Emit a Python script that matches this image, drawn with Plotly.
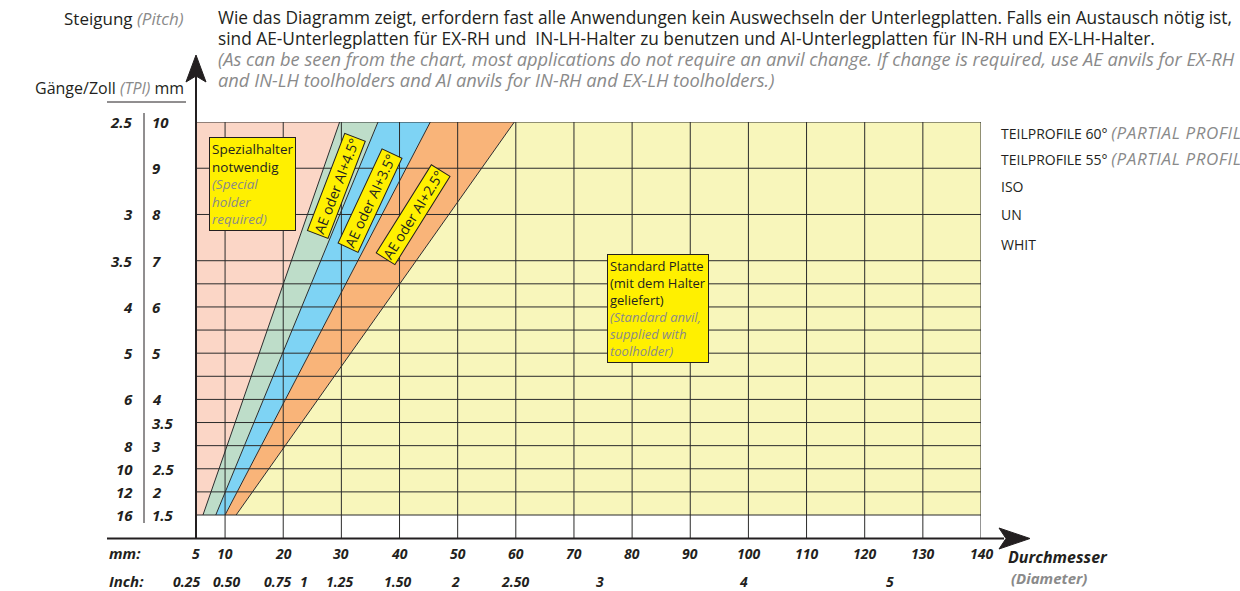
import math
import plotly.graph_objects as go

# ---------------- data ----------------
mm_ticks = [5, 10, 20, 30, 40, 50, 60, 70, 80, 90, 100, 110, 120, 130, 140]
inch_labels = ["0.25", "0.50", "0.75", "1", "1.25", "1.50", "2", "2.50", "3", "4", "5"]
inch_pos_mm = [3.3, 10.2, 19.1, 23.6, 29.6, 39.7, 49.7, 59.9, 74.5, 99.1, 124.3]

pitch_labels = [10, 9, 8, 7, 6, 5, 4, 3.5, 3, 2.5, 2, 1.5]
tpi_labels = ["2.5", "3", "3.5", "4", "5", "6", "8", "10", "12", "16"]
tpi_at_pitch = [10, 8, 7, 6, 5, 4, 3, 2.5, 2, 1.5]

grid_pitch = [10, 9, 8, 7, 6.5, 6, 5.5, 5, 4.5, 4, 3.5, 3, 2.5, 2, 1.5]
grid_mm = [10, 20, 30, 40, 50, 60, 70, 80, 90, 100, 110, 120, 130, 140]

# zone boundaries: diameter (mm) at pitch 1.5 and at pitch 10
pitch_low, pitch_high = 1.5, 10
bound_low = [6.2, 8.4, 10.0, 11.9]
bound_high = [29.7, 36.3, 45.3, 59.75]
dia_min, dia_max = 5, 140

zone_names = ["Spezialhalter", "AE/AI+4.5°", "AE/AI+3.5°", "AE/AI+2.5°", "Standard"]
zone_colors = ["#FBD6C6", "#BEDDC9", "#7ED3F4", "#F9B479", "#F8F6BB"]

band_labels = ["AE oder AI+4.5°", "AE oder AI+3.5°", "AE oder AI+2.5°"]
band_label_x = [29.2, 34.9, 42.4]
band_label_y = [8.62, 8.31, 7.99]
band_label_angle = [-69, -65, -58]

legend_items = [
    ("TEILPROFILE 60°", "(PARTIAL PROFILE 60°)"),
    ("TEILPROFILE 55°", "(PARTIAL PROFILE 55°)"),
    ("ISO", ""),
    ("UN", ""),
    ("WHIT", ""),
]

# ---------------- layout geometry (pixels) ----------------
W, H = 1240, 591
PL, PR, PT, PB = 196, 981, 122, 539          # plot area
Y_TOP_PX, Y_BOT_PX = 122, 515                 # pitch 10 / pitch 1.5
y_per_px = (pitch_high - pitch_low) / (Y_BOT_PX - Y_TOP_PX)
y_min = pitch_low - (PB - Y_BOT_PX) * y_per_px


def fx(p):
    return (p - PL) / (PR - PL)


def fy(p):
    return (PB - p) / (PB - PT)


def mm_to_paper(v):
    # same linear scale as the x axis, for labels that fall outside the axis range
    return (v - dia_min) / (dia_max - dia_min)


DARK = "#231f20"
GRAY = "#8a8a8a"
FONT = "Open Sans"

fig = go.Figure()

# ---------------- zones ----------------
edges_low = [dia_min] + bound_low + [dia_max]
edges_high = [dia_min] + bound_high + [dia_max]
for i, (name, col) in enumerate(zip(zone_names, zone_colors)):
    xs = [edges_low[i], edges_low[i + 1], edges_high[i + 1], edges_high[i], edges_low[i]]
    ys = [pitch_low, pitch_low, pitch_high, pitch_high, pitch_low]
    fig.add_trace(go.Scatter(x=xs, y=ys, fill="toself", fillcolor=col, mode="lines",
                             line=dict(width=0), name=name, hoverinfo="skip",
                             showlegend=False))

# ---------------- grid ----------------
gx, gy = [], []
for v in grid_mm:
    gx += [v, v, None]
    gy += [y_min, pitch_high, None]
for p in grid_pitch:
    gx += [dia_min, dia_max, None]
    gy += [p, p, None]
fig.add_trace(go.Scatter(x=gx, y=gy, mode="lines", line=dict(color="#2b2b2b", width=1),
                         hoverinfo="skip", showlegend=False))

# boundary lines
bx, by = [], []
for lo, hi in zip(bound_low, bound_high):
    bx += [lo, hi, None]
    by += [pitch_low, pitch_high, None]
fig.add_trace(go.Scatter(x=bx, y=by, mode="lines", line=dict(color="#2b2b2b", width=1),
                         hoverinfo="skip", showlegend=False))

ann = []

# band labels
for t, x, y, a in zip(band_labels, band_label_x, band_label_y, band_label_angle):
    ann.append(dict(x=x, y=y, xref="x", yref="y", text=t, textangle=a, showarrow=False,
                    font=dict(family=FONT, size=14, color=DARK), bgcolor="#FFF000",
                    bordercolor=DARK, borderwidth=1, borderpad=1))

# boxes
ann.append(dict(x=fx(209), y=fy(137), xref="paper", yref="paper", xanchor="left", yanchor="top",
                text="Spezialhalter<br>notwendig<br><span style='color:%s'><i>(Special<br>holder<br>required)</i></span>" % GRAY,
                align="left", showarrow=False, font=dict(family=FONT, size=13.5, color=DARK),
                bgcolor="#FFF000", bordercolor=DARK, borderwidth=1, borderpad=2))
ann.append(dict(x=fx(607), y=fy(254), xref="paper", yref="paper", xanchor="left", yanchor="top",
                text="Standard Platte<br>(mit dem Halter<br>geliefert)<br><span style='color:%s'><i>(Standard anvil,<br>supplied with<br>toolholder)</i></span>" % GRAY,
                align="left", showarrow=False, font=dict(family=FONT, size=13, color=DARK),
                bgcolor="#FFF000", bordercolor=DARK, borderwidth=1, borderpad=2))

# y labels (mm) and TPI
for p in pitch_labels:
    ann.append(dict(x=fx(150), y=p, xref="paper", yref="y", xanchor="left", yanchor="middle",
                    text="<b><i>%g</i></b>" % p, showarrow=False,
                    font=dict(family=FONT, size=15, color=DARK)))
for t, p in zip(tpi_labels, tpi_at_pitch):
    ann.append(dict(x=fx(135), y=p, xref="paper", yref="y", xanchor="right", yanchor="middle",
                    text="<b><i>%s</i></b>" % t, showarrow=False,
                    font=dict(family=FONT, size=15, color=DARK)))

# x labels
for v in mm_ticks:
    ann.append(dict(x=v, y=fy(553), xref="x", yref="paper", xanchor="center", yanchor="middle",
                    text="<b><i>%d</i></b>" % v, showarrow=False,
                    font=dict(family=FONT, size=14, color=DARK)))
for t, v in zip(inch_labels, inch_pos_mm):
    ann.append(dict(x=mm_to_paper(v), y=fy(581), xref="paper", yref="paper", xanchor="center", yanchor="middle",
                    text="<b><i>%s</i></b>" % t, showarrow=False,
                    font=dict(family=FONT, size=14, color=DARK)))
ann.append(dict(x=fx(107), y=fy(553), xref="paper", yref="paper", xanchor="left", yanchor="middle",
                text="<b><i>mm:</i></b>", showarrow=False, font=dict(family=FONT, size=15, color=DARK)))
ann.append(dict(x=fx(107), y=fy(581), xref="paper", yref="paper", xanchor="left", yanchor="middle",
                text="<b><i>Inch:</i></b>", showarrow=False, font=dict(family=FONT, size=15, color=DARK)))
ann.append(dict(x=fx(1006), y=fy(557), xref="paper", yref="paper", xanchor="left", yanchor="middle",
                text="<b><i>Durchmesser</i></b>", showarrow=False, font=dict(family=FONT, size=16, color=DARK)))
ann.append(dict(x=fx(1009), y=fy(578), xref="paper", yref="paper", xanchor="left", yanchor="middle",
                text="<b><i>(Diameter)</i></b>", showarrow=False, font=dict(family=FONT, size=15, color=GRAY)))

# top texts
ann.append(dict(x=fx(186), y=fy(18), xref="paper", yref="paper", xanchor="right", yanchor="middle",
                text="Steigung <span style='color:%s'><i>(Pitch)</i></span>" % GRAY, showarrow=False,
                font=dict(family=FONT, size=17, color=DARK)))
ann.append(dict(x=fx(186), y=fy(88), xref="paper", yref="paper", xanchor="right", yanchor="middle",
                text="Gänge/Zoll <span style='color:%s'><i>(TPI)</i></span> mm" % GRAY, showarrow=False,
                font=dict(family=FONT, size=16, color=DARK)))

de_lines = [
    "Wie das Diagramm zeigt, erfordern fast alle Anwendungen kein Auswechseln der Unterlegplatten. Falls ein Austausch nötig ist,",
    "sind AE-Unterlegplatten für EX-RH und  IN-LH-Halter zu benutzen und AI-Unterlegplatten für IN-RH und EX-LH-Halter.",
]
en_lines = [
    "(As can be seen from the chart, most applications do not require an anvil change. If change is required, use AE anvils for EX-RH",
    "and IN-LH toolholders and AI anvils for IN-RH and EX-LH toolholders.)",
]
para = "<br>".join(["<span style='font-size:17.3px'>%s</span>" % l for l in de_lines] +
                   ["<span style='font-size:18.3px;color:%s'><i>%s</i></span>" % (GRAY, l) for l in en_lines])
ann.append(dict(x=fx(216), y=fy(49.5), xref="paper", yref="paper", xanchor="left", yanchor="middle",
                text=para, align="left", showarrow=False,
                font=dict(family=FONT, size=16.15, color=DARK)))

# right-hand list
for i, (de, en) in enumerate(legend_items):
    ypx = [133, 158, 186, 215, 244][i]
    txt = de + ((" <span style='color:%s;font-size:17px;letter-spacing:0.6px'><i>%s</i></span>" % (GRAY, en)) if en else "")
    ann.append(dict(x=fx(999), y=fy(ypx), xref="paper", yref="paper", xanchor="left", yanchor="middle",
                    text=txt, showarrow=False, font=dict(family=FONT, size=14, color=DARK)))

shapes = []
# header underline & separator
shapes.append(dict(type="line", xref="paper", yref="paper", x0=fx(107), x1=fx(186), y0=fy(102), y1=fy(102),
                   line=dict(color=DARK, width=1)))
shapes.append(dict(type="line", xref="paper", yref="paper", x0=fx(144), x1=fx(144), y0=fy(113), y1=fy(523),
                   line=dict(color=DARK, width=1)))
# axes
shapes.append(dict(type="line", xref="paper", yref="paper", x0=fx(107), x1=fx(1004), y0=fy(538.5), y1=fy(538.5),
                   line=dict(color=DARK, width=2), layer="above"))
shapes.append(dict(type="line", xref="paper", yref="paper", x0=fx(196), x1=fx(196), y0=fy(539), y1=fy(76),
                   line=dict(color=DARK, width=2), layer="above"))
# arrow heads
shapes.append(dict(type="path", xref="paper", yref="paper", layer="above",
                   path="M %f %f L %f %f L %f %f L %f %f Z" % (fx(1030), fy(538.5), fx(999), fy(528), fx(1006), fy(538.5), fx(999), fy(549)),
                   fillcolor=DARK, line=dict(color=DARK, width=1)))
shapes.append(dict(type="path", xref="paper", yref="paper", layer="above",
                   path="M %f %f L %f %f L %f %f L %f %f Z" % (fx(196), fy(55), fx(186), fy(82), fx(196), fy(76), fx(206), fy(82)),
                   fillcolor=DARK, line=dict(color=DARK, width=1)))

fig.update_layout(
    width=W, height=H,
    margin=dict(l=PL, r=W - PR, t=PT, b=H - PB, pad=0),
    paper_bgcolor="white", plot_bgcolor="white",
    xaxis=dict(range=[dia_min, dia_max], showgrid=False, zeroline=False, showticklabels=False,
               showline=False, fixedrange=True),
    yaxis=dict(range=[y_min, pitch_high], showgrid=False, zeroline=False, showticklabels=False,
               showline=False, fixedrange=True),
    annotations=ann, shapes=shapes, showlegend=False,
)

fig.write_html("out.html", config={"displayModeBar": False},
               post_script="document.body.style.margin='0px';document.body.style.overflow='hidden';")
